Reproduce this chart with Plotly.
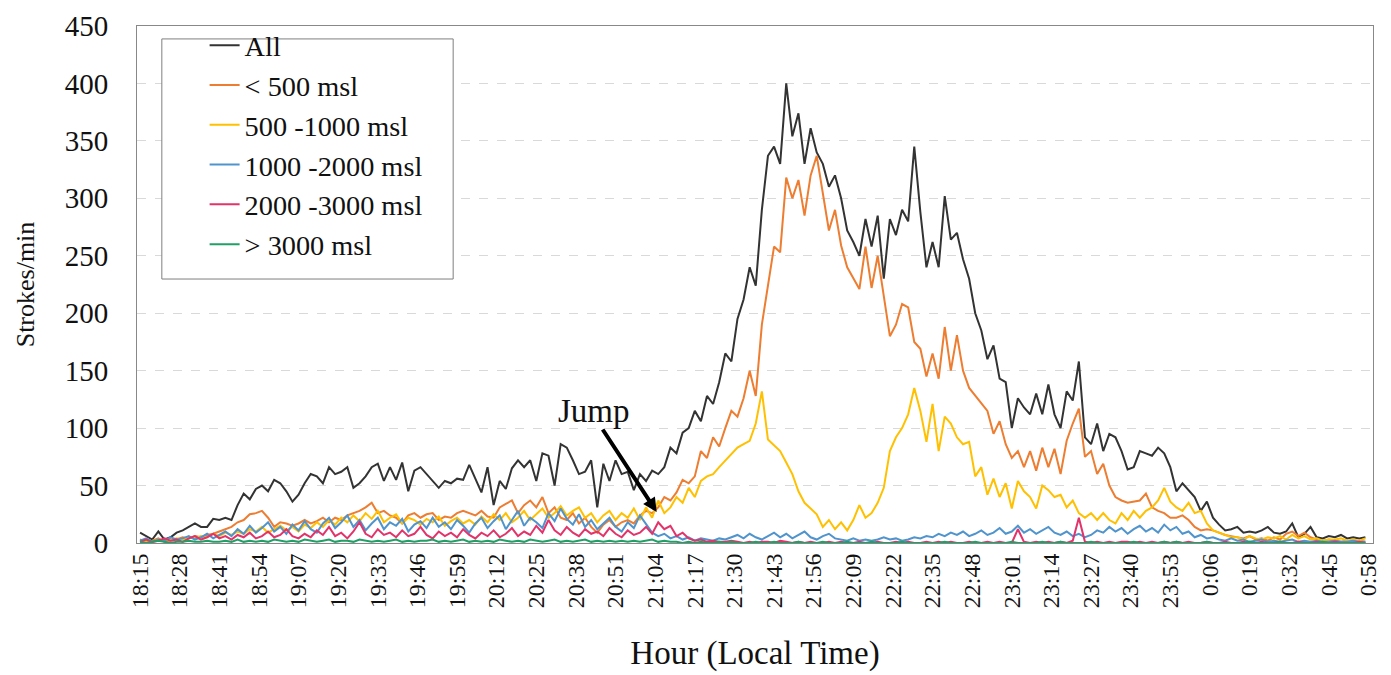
import pandas as pd
import plotly.graph_objects as go

# ---- data (values every 2 minutes, starting 18:15) ----
all_strokes = [
    9, 6, 3, 10, 3, 5, 9, 11, 14, 17,
    14, 14, 21, 20, 22, 20, 33, 43, 38, 47,
    50, 45, 55, 52, 45, 36, 42, 52, 60, 58,
    52, 66, 60, 62, 66, 48, 52, 58, 66, 69,
    54, 66, 55, 70, 45, 63, 66, 60, 54, 48,
    54, 52, 56, 55, 68, 56, 44, 66, 33, 54,
    47, 65, 72, 66, 72, 54, 78, 76, 50, 86,
    83, 72, 60, 62, 72, 31, 69, 54, 72, 60,
    62, 46, 60, 54, 63, 60, 66, 83, 78, 96,
    100, 115, 106, 128, 121, 140, 165, 158, 195, 212,
    240, 224, 290, 337, 345, 330, 400, 354, 374, 330,
    361, 340, 330, 310, 320, 300, 272, 262, 250, 282,
    258, 285, 230, 282, 268, 290, 280, 345, 288, 240,
    262, 240, 302, 264, 270, 247, 230, 200, 185, 160,
    172, 143, 140, 100, 126, 118, 112, 130, 112, 138,
    112, 100, 132, 124, 158, 92, 86, 104, 80, 95,
    92, 80, 64, 66, 80, 78, 76, 83, 78, 66,
    45, 52, 46, 40, 28, 36, 22, 16, 11, 12,
    14, 9, 10, 9, 11, 14, 9, 8, 10, 17,
    5, 8, 14, 5, 4, 6, 5, 7, 4, 5,
    4, 5,
]
below_500 = [
    3, 1, 2, 4, 1, 2, 3, 5, 4, 6,
    5, 7, 8, 10, 12, 14, 18, 20, 25, 26,
    28, 22, 14, 18, 17, 15, 17, 20, 17, 19,
    22, 18, 22, 20, 24, 26, 28, 31, 35, 26,
    28, 24, 22, 17, 24, 26, 22, 25, 26, 20,
    23, 22, 26, 28, 26, 24, 28, 23, 22, 31,
    34, 37, 26, 33, 37, 31, 40, 26, 31, 22,
    20, 26, 17, 22, 14, 9, 16, 20, 14, 18,
    20, 17, 24, 28, 26, 31, 40, 37, 44, 55,
    52, 58, 80, 74, 92, 84, 100, 115, 110, 126,
    150, 128, 190, 225, 258, 253, 318, 300, 316, 285,
    320, 337, 305, 272, 290, 259, 240, 230, 221, 258,
    222, 250, 216, 180, 190, 208, 205, 175, 169, 145,
    165, 143, 188, 150, 181, 150, 135, 128, 122, 115,
    95, 106, 86, 74, 80, 66, 80, 63, 83, 66,
    82, 60, 89, 104, 117, 75, 80, 60, 69, 50,
    40, 37, 35, 36, 37, 43, 31, 28, 26, 22,
    22, 24, 20, 14, 11, 12, 11, 9, 7, 6,
    5, 4, 6, 3, 4, 2, 5, 3, 8, 10,
    6, 9, 5, 3, 2, 3, 2, 1, 2, 1,
    2, 1,
]
from_500_to_1000 = [
    1, 2, 1, 3, 2, 2, 4, 3, 5, 4,
    6, 5, 8, 6, 9, 7, 10, 8, 12, 10,
    14, 9, 12, 15, 11, 14, 10, 16, 13, 18,
    14, 20, 16, 22, 18, 24, 19, 26, 21, 28,
    18, 22, 25, 17, 22, 20, 16, 21, 18, 23,
    15, 19, 22, 17, 20, 16, 23, 18, 25, 20,
    26, 18, 22, 28, 20, 25, 30, 22, 26, 32,
    24, 28, 31, 22, 26, 18, 24, 28, 20, 26,
    22, 30, 20, 31, 22, 37, 26, 31, 40, 35,
    48, 40, 54, 58, 60, 66, 72, 78, 83, 86,
    89, 104, 132, 90, 85, 80, 70, 60, 45, 35,
    30, 25, 14, 20, 12, 18, 11, 20, 33, 22,
    26, 35, 48, 80, 92, 100, 112, 135, 115, 88,
    121, 80, 110, 104, 92, 86, 88, 58, 66, 42,
    56, 40, 52, 30, 54, 45, 40, 30, 50, 46,
    40, 42, 31, 37, 26, 22, 26, 20, 26, 20,
    17, 26, 20, 28, 22, 28, 31, 37, 48, 36,
    31, 28, 35, 26, 28, 17, 11, 9, 7, 5,
    5, 3, 6, 4, 3, 5, 4, 6, 3, 7,
    4, 6, 3, 4, 2, 3, 3, 4, 2, 3,
    2, 4,
]
from_1000_to_2000 = [
    2, 4, 1, 3, 2, 5, 3, 4, 6, 3,
    5, 8, 4, 7, 10, 6, 12, 8, 15, 9,
    13, 18, 10, 14, 8, 16, 11, 19, 12, 9,
    17, 22, 13, 18, 24, 14, 20, 11, 17, 22,
    12, 18, 15, 21, 10, 16, 19, 13, 22, 14,
    18, 12, 20, 15, 9, 17, 22, 13, 19, 24,
    12, 20, 28, 15, 22, 18, 13, 26, 19, 30,
    21, 16, 25, 14, 20, 12, 17, 22, 14, 10,
    18, 13, 24, 16, 9, 6, 8, 4, 6, 3,
    5, 2, 4, 3, 2, 4, 3, 5, 7, 4,
    8, 5, 3, 6, 9, 5, 8, 4, 7, 10,
    5, 3, 6, 8, 4, 3, 2, 4, 2, 3,
    2, 3, 5, 3, 4, 2, 3, 5, 4, 6,
    5, 8, 6, 9, 7, 10, 6, 8, 11, 7,
    9, 13, 8, 10, 15, 9, 12, 8, 11, 14,
    9, 7, 10, 6, 8, 5, 7, 11, 9, 14,
    10, 13, 8, 12, 15, 10, 13, 9, 16, 11,
    14, 8, 10, 5, 7, 4, 5, 3, 2, 4,
    2, 3, 1, 2, 3, 1, 2, 1, 2, 3,
    1, 2, 1, 2, 1, 1, 2, 1, 1, 2,
    1, 1,
]
from_2000_to_3000 = [
    1, 3, 1, 2, 4, 2, 3, 1, 4, 6,
    3, 5, 8, 4, 6, 3, 7, 5, 9, 4,
    6, 10, 5, 7, 12, 6, 4, 8, 5, 11,
    7, 14, 6, 9, 4, 10, 18, 8, 5, 12,
    7, 9, 5, 11, 6, 8, 14, 7, 4, 10,
    6, 9, 5, 12, 7, 4, 9, 6, 11, 5,
    8, 13, 6, 10, 7, 15, 9, 20, 11, 7,
    14, 9, 6, 12, 8, 10, 6, 13, 8, 5,
    11, 7, 9, 14, 8, 18, 12, 15, 6, 9,
    4, 2, 3, 1, 2, 1, 1, 2, 1, 0,
    1, 0, 1, 1, 0, 2, 1, 0, 1, 0,
    1, 0, 0, 1, 0, 1, 0, 0, 1, 0,
    0, 1, 0, 0, 1, 0, 1, 0, 0, 1,
    0, 1, 0, 1, 0, 0, 1, 0, 0, 1,
    0, 1, 0, 0, 12, 1, 0, 1, 0, 1,
    0, 1, 0, 2, 22, 1, 0, 1, 0, 1,
    0, 1, 1, 0, 1, 0, 1, 0, 1, 0,
    1, 0, 1, 0, 0, 1, 0, 0, 1, 0,
    0, 1, 0, 0, 1, 0, 0, 1, 0, 0,
    1, 0, 0, 1, 0, 0, 1, 0, 0, 0,
    1, 0,
]
above_3000 = [
    1, 0, 1, 2, 1, 0, 1, 1, 2, 1,
    1, 2, 1, 1, 2, 1, 3, 1, 2, 1,
    2, 1, 3, 2, 1, 2, 1, 3, 2, 1,
    2, 3, 1, 2, 2, 1, 3, 2, 1, 2,
    1, 2, 3, 1, 2, 1, 2, 2, 3, 1,
    2, 1, 2, 3, 1, 2, 1, 2, 1, 3,
    2, 1, 2, 1, 3, 2, 1, 2, 3, 1,
    2, 1, 2, 3, 1, 2, 1, 2, 1, 2,
    1, 2, 1, 2, 3, 1, 2, 1, 1, 0,
    1, 0, 1, 0, 0, 1, 0, 1, 0, 0,
    0, 1, 0, 0, 1, 0, 0, 0, 1, 0,
    0, 0, 1, 0, 0, 0, 1, 0, 0, 0,
    1, 0, 0, 0, 0, 1, 0, 0, 0, 0,
    0, 0, 1, 0, 0, 0, 0, 1, 0, 0,
    0, 0, 0, 1, 0, 0, 0, 0, 1, 0,
    0, 1, 0, 0, 0, 0, 1, 0, 0, 0,
    0, 0, 0, 1, 0, 0, 0, 0, 1, 0,
    1, 0, 0, 0, 0, 1, 0, 0, 0, 0,
    0, 0, 1, 0, 0, 0, 0, 1, 0, 0,
    0, 0, 0, 0, 1, 0, 0, 0, 0, 0,
    0, 0,
]

series_names = ["All", "< 500 msl", "500 -1000 msl", "1000 -2000 msl",
                "2000 -3000 msl", "> 3000 msl"]
series_values = [all_strokes, below_500, from_500_to_1000, from_1000_to_2000,
                 from_2000_to_3000, above_3000]
series_colors = ["#333333", "#ED7D31", "#FFC000", "#4F94CD", "#E2336A", "#1FA066"]

start = pd.Timestamp("2000-01-01 18:15")
step_minutes = 2
times = [start + pd.Timedelta(minutes=step_minutes * i) for i in range(len(all_strokes))]

tick_minutes = list(range(0, 404, 13))
tick_vals = [start + pd.Timedelta(minutes=m) for m in tick_minutes]
tick_text = [f"{t.hour}:{t.minute:02d}" for t in tick_vals]

FONT = "Liberation Serif"
TXT = "#111111"

fig = go.Figure()
for name, vals, col in zip(series_names, series_values, series_colors):
    fig.add_trace(go.Scatter(x=times, y=vals, mode="lines", name=name,
                             line=dict(color=col, width=2)))

fig.update_layout(
    width=1391, height=675,
    margin=dict(l=137, r=10, t=22, b=132),
    paper_bgcolor="white", plot_bgcolor="white",
    font=dict(family=FONT, color=TXT),
    showlegend=True,
    legend=dict(x=0.0547, y=1.011, xanchor="left", yanchor="top",
                bgcolor="rgba(0,0,0,0)", borderwidth=0,
                font=dict(family=FONT, size=28.3, color=TXT),
                itemwidth=30, tracegroupgap=0),
    xaxis=dict(
        range=[start - pd.Timedelta(minutes=1), start + pd.Timedelta(minutes=404.5)],
        tickmode="array", tickvals=tick_vals, ticktext=tick_text,
        tickangle=-90, tickfont=dict(family=FONT, size=24, color=TXT),
        showgrid=False, showline=True, linecolor="#888888", linewidth=1, mirror=True,
        ticks="", zeroline=False,
        title=dict(text="Hour (Local Time)", font=dict(family=FONT, size=33, color=TXT),
                   standoff=33),
    ),
    yaxis=dict(
        range=[0, 450], tickmode="linear", tick0=0, dtick=50,
        tickfont=dict(family=FONT, size=29, color=TXT),
        ticklabelstandoff=22,
        showgrid=True, gridcolor="#d9d9d9", griddash="dash", gridwidth=1,
        showline=True, linecolor="#888888", linewidth=1, mirror=True,
        ticks="", zeroline=False,
        title=dict(text="Strokes/min", font=dict(family=FONT, size=26, color=TXT),
                   standoff=22),
    ),
)

# legend frame
fig.add_shape(type="rect", xref="paper", yref="paper",
              x0=0.0201, x1=0.2558, y0=0.5106, y1=0.975,
              line=dict(color="#7f7f7f", width=1), fillcolor="white", layer="above")

fig.add_annotation(x=start + pd.Timedelta(minutes=149), y=115, xref="x", yref="y",
                   text="Jump", showarrow=False,
                   font=dict(family=FONT, size=33, color=TXT))
fig.add_annotation(x=start + pd.Timedelta(minutes=169.5), y=27, xref="x", yref="y",
                   text="", showarrow=True, ax=-55, ay=-84,
                   arrowhead=2, arrowsize=0.7, arrowwidth=4, arrowcolor="#000000")

fig.write_html("out.html")
